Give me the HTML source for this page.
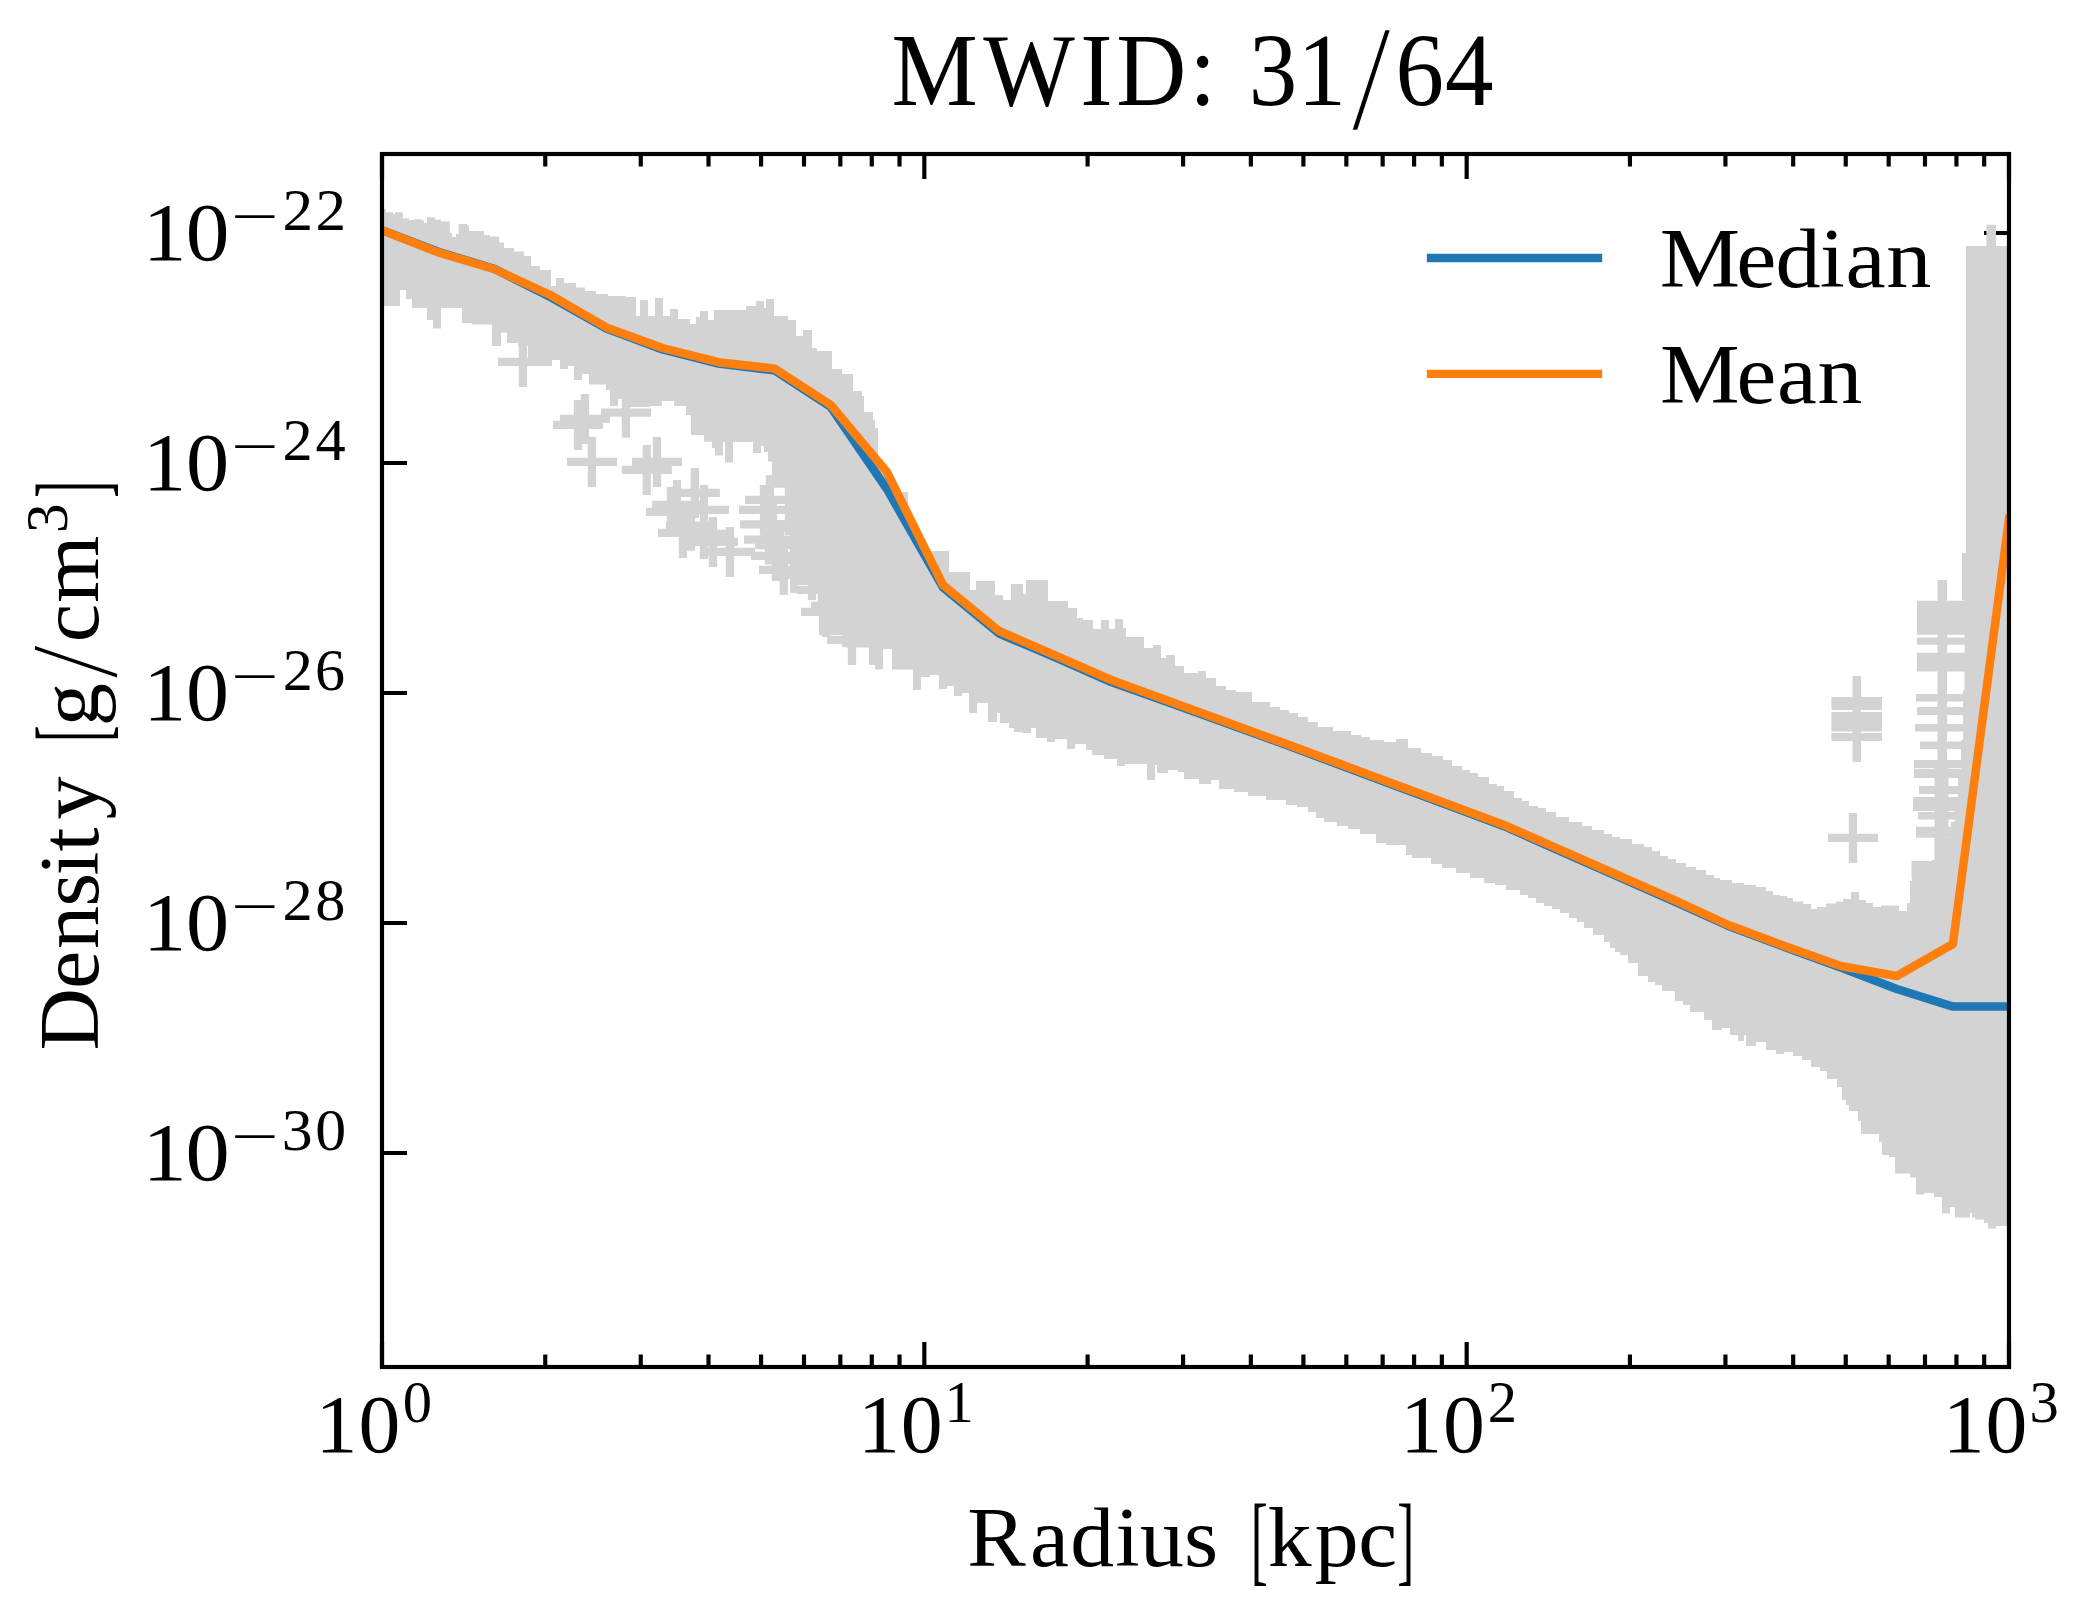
<!DOCTYPE html>
<html lang="en">
<head>
<meta charset="utf-8">
<title>MWID: 31/64</title>
<style>
html,body{margin:0;padding:0;background:#fff;}
body{width:2097px;height:1616px;overflow:hidden;}
svg{display:block;}
text{font-family:'Liberation Serif', 'DejaVu Serif', serif;fill:#000;}
</style>
</head>
<body>
<svg width="2097" height="1616" viewBox="0 0 2097 1616">
<rect width="2097" height="1616" fill="#fff"/>
<defs><clipPath id="ax"><rect x="382.0" y="154.0" width="1627.0" height="1213.0"/></clipPath></defs>
<path d="M382.00,1367.0v-25M382.00,154.0v25M924.33,1367.0v-25M924.33,154.0v25M1466.67,1367.0v-25M1466.67,154.0v25M2009.00,1367.0v-25M2009.00,154.0v25M545.26,1367.0v-12.5M545.26,154.0v12.5M640.76,1367.0v-12.5M640.76,154.0v12.5M708.52,1367.0v-12.5M708.52,154.0v12.5M761.07,1367.0v-12.5M761.07,154.0v12.5M804.02,1367.0v-12.5M804.02,154.0v12.5M840.32,1367.0v-12.5M840.32,154.0v12.5M871.78,1367.0v-12.5M871.78,154.0v12.5M899.52,1367.0v-12.5M899.52,154.0v12.5M1087.59,1367.0v-12.5M1087.59,154.0v12.5M1183.09,1367.0v-12.5M1183.09,154.0v12.5M1250.85,1367.0v-12.5M1250.85,154.0v12.5M1303.41,1367.0v-12.5M1303.41,154.0v12.5M1346.35,1367.0v-12.5M1346.35,154.0v12.5M1382.66,1367.0v-12.5M1382.66,154.0v12.5M1414.11,1367.0v-12.5M1414.11,154.0v12.5M1441.85,1367.0v-12.5M1441.85,154.0v12.5M1629.93,1367.0v-12.5M1629.93,154.0v12.5M1725.43,1367.0v-12.5M1725.43,154.0v12.5M1793.18,1367.0v-12.5M1793.18,154.0v12.5M1845.74,1367.0v-12.5M1845.74,154.0v12.5M1888.68,1367.0v-12.5M1888.68,154.0v12.5M1924.99,1367.0v-12.5M1924.99,154.0v12.5M1956.44,1367.0v-12.5M1956.44,154.0v12.5M1984.18,1367.0v-12.5M1984.18,154.0v12.5M382.0,233.0h25M2009.0,233.0h-25M382.0,463.0h25M2009.0,463.0h-25M382.0,693.0h25M2009.0,693.0h-25M382.0,923.0h25M2009.0,923.0h-25M382.0,1153.0h25M2009.0,1153.0h-25" stroke="#000" stroke-width="4.17" fill="none"/>
<g clip-path="url(#ax)">
<path d="M382.0,209.0 L386.0,209.0 L386.0,212.2 L392.9,212.2 L392.9,214.0 L395.0,214.0 L395.0,212.2 L402.9,212.2 L402.9,218.2 L408.9,218.2 L408.9,220.0 L414.1,220.0 L414.1,219.3 L421.7,219.3 L421.7,220.3 L423.9,220.3 L423.9,223.0 L427.0,223.0 L427.0,217.2 L434.9,217.2 L434.9,219.8 L441.0,219.8 L441.0,221.2 L449.9,221.2 L449.9,233.0 L452.0,233.0 L452.0,237.0 L456.0,237.0 L456.0,234.0 L458.7,234.0 L458.7,224.0 L467.3,224.0 L467.3,225.5 L469.0,225.5 L469.0,231.0 L484.0,231.0 L484.0,235.0 L490.0,235.0 L490.0,236.5 L499.0,236.5 L499.0,242.5 L504.0,242.5 L504.0,248.0 L514.0,248.0 L514.0,251.5 L524.0,251.5 L524.0,256.0 L531.0,256.0 L531.0,266.0 L540.0,266.0 L540.0,270.0 L551.0,270.0 L551.0,286.0 L556.0,286.0 L556.0,278.0 L564.0,278.0 L564.0,283.0 L576.0,283.0 L576.0,287.5 L585.0,287.5 L585.0,291.0 L596.0,291.0 L596.0,294.0 L608.0,294.0 L608.0,296.0 L626.0,296.0 L626.0,297.0 L636.0,297.0 L636.0,316.0 L640.0,316.0 L640.0,300.0 L648.0,300.0 L648.0,316.0 L655.0,316.0 L655.0,298.0 L663.0,298.0 L663.0,316.0 L670.0,316.0 L670.0,309.0 L678.0,309.0 L678.0,319.0 L690.0,319.0 L690.0,324.0 L696.0,324.0 L696.0,317.0 L700.0,317.0 L700.0,311.0 L708.0,311.0 L708.0,320.0 L714.0,320.0 L714.0,310.0 L746.0,310.0 L746.0,306.0 L756.0,306.0 L756.0,301.0 L764.0,301.0 L764.0,308.0 L766.0,308.0 L766.0,299.0 L774.0,299.0 L774.0,316.0 L788.0,316.0 L788.0,320.0 L796.0,320.0 L796.0,336.0 L803.0,336.0 L803.0,330.0 L812.0,330.0 L812.0,348.0 L817.0,348.0 L817.0,351.0 L832.0,351.0 L832.0,369.0 L842.0,369.0 L842.0,374.0 L853.0,374.0 L853.0,391.0 L862.0,391.0 L862.0,396.0 L864.0,396.0 L864.0,412.0 L873.0,412.0 L873.0,420.0 L875.0,420.0 L875.0,428.0 L878.0,428.0 L878.0,463.7 L882.0,463.7 L882.0,468.5 L886.0,468.5 L886.0,474.2 L890.0,474.2 L890.0,482.2 L894.0,482.2 L894.0,490.3 L898.0,490.3 L898.0,492.0 L908.0,492.0 L908.0,519.1 L912.6,519.1 L912.6,528.3 L917.2,528.3 L917.2,537.6 L921.8,537.6 L921.8,546.9 L926.4,546.9 L926.4,556.1 L931.0,556.1 L931.0,551.0 L949.0,551.0 L949.0,572.0 L970.0,572.0 L970.0,590.0 L976.0,590.0 L976.0,581.0 L995.0,581.0 L995.0,595.0 L1003.0,595.0 L1003.0,600.0 L1011.0,600.0 L1011.0,584.0 L1023.0,584.0 L1023.0,594.0 L1026.0,594.0 L1026.0,580.0 L1048.0,580.0 L1048.0,601.0 L1068.0,601.0 L1068.0,608.0 L1077.0,608.0 L1077.0,618.0 L1083.0,618.0 L1083.0,620.0 L1093.0,620.0 L1093.0,629.0 L1101.0,629.0 L1101.0,620.0 L1109.0,620.0 L1109.0,629.0 L1115.0,629.0 L1115.0,619.0 L1123.0,619.0 L1123.0,628.0 L1126.0,628.0 L1126.0,637.0 L1144.0,637.0 L1144.0,648.0 L1153.0,648.0 L1153.0,645.0 L1161.0,645.0 L1161.0,658.0 L1166.0,658.0 L1166.0,655.0 L1175.0,655.0 L1175.0,666.0 L1184.0,666.0 L1184.0,673.0 L1198.0,673.0 L1198.0,671.0 L1206.0,671.0 L1206.0,678.0 L1216.0,678.0 L1216.0,686.0 L1226.0,686.0 L1226.0,690.0 L1236.0,690.0 L1236.0,692.0 L1252.0,692.0 L1252.0,702.0 L1270.0,702.0 L1270.0,707.0 L1280.0,707.0 L1280.0,710.0 L1289.0,710.0 L1289.0,713.0 L1298.0,713.0 L1298.0,717.0 L1308.0,717.0 L1308.0,722.0 L1318.0,722.0 L1318.0,727.0 L1333.0,727.0 L1333.0,731.0 L1351.0,731.0 L1351.0,735.0 L1361.0,735.0 L1361.0,737.0 L1370.0,737.0 L1370.0,740.0 L1384.0,740.0 L1384.0,742.0 L1396.0,742.0 L1396.0,739.0 L1408.0,739.0 L1408.0,748.0 L1421.0,748.0 L1421.0,753.0 L1432.0,753.0 L1432.0,756.0 L1443.0,756.0 L1443.0,760.0 L1452.0,760.0 L1452.0,766.0 L1462.0,766.0 L1462.0,770.0 L1470.0,770.0 L1470.0,773.0 L1478.0,773.0 L1478.0,777.0 L1489.0,777.0 L1489.0,784.0 L1497.0,784.0 L1497.0,786.0 L1504.0,786.0 L1504.0,791.0 L1514.0,791.0 L1514.0,798.0 L1522.0,798.0 L1522.0,801.0 L1529.0,801.0 L1529.0,806.0 L1538.0,806.0 L1538.0,808.0 L1546.0,808.0 L1546.0,812.0 L1556.0,812.0 L1556.0,817.0 L1569.0,817.0 L1569.0,822.0 L1582.0,822.0 L1582.0,826.0 L1592.0,826.0 L1592.0,830.0 L1604.0,830.0 L1604.0,834.0 L1612.0,834.0 L1612.0,837.0 L1620.0,837.0 L1620.0,839.0 L1632.0,839.0 L1632.0,844.0 L1644.0,844.0 L1644.0,847.0 L1652.0,847.0 L1652.0,851.0 L1660.0,851.0 L1660.0,856.0 L1668.0,856.0 L1668.0,859.0 L1676.0,859.0 L1676.0,863.0 L1686.0,863.0 L1686.0,867.0 L1696.0,867.0 L1696.0,870.0 L1706.0,870.0 L1706.0,875.0 L1714.0,875.0 L1714.0,878.0 L1720.0,878.0 L1720.0,880.0 L1732.0,880.0 L1732.0,883.0 L1744.0,883.0 L1744.0,885.0 L1756.0,885.0 L1756.0,887.0 L1766.0,887.0 L1766.0,891.0 L1773.0,891.0 L1773.0,895.0 L1780.0,895.0 L1780.0,896.0 L1787.0,896.0 L1787.0,898.0 L1793.0,898.0 L1793.0,901.5 L1803.0,901.5 L1803.0,904.0 L1811.0,904.0 L1811.0,909.0 L1817.0,909.0 L1817.0,907.0 L1826.0,907.0 L1826.0,903.5 L1836.0,903.5 L1836.0,901.5 L1843.0,901.5 L1843.0,899.0 L1851.0,899.0 L1851.0,892.0 L1859.0,892.0 L1859.0,900.0 L1866.0,900.0 L1866.0,903.0 L1873.0,903.0 L1873.0,907.0 L1881.0,907.0 L1881.0,905.5 L1899.0,905.5 L1899.0,911.0 L1907.0,911.0 L1907.0,903.0 L1910.0,903.0 L1910.0,881.0 L1912.0,881.0 L1912.0,861.0 L1932.0,861.0 L1932.0,860.0 L1934.5,860.0 L1934.5,760.0 L1948.5,760.0 L1948.5,838.0 L1965.0,838.0 L1965.0,553.0 L1966.0,553.0 L1966.0,246.0 L1986.4,246.0 L1986.4,224.7 L1996.0,224.7 L1996.0,246.0 L2009.0,246.0 L2009.0,1226.0 L1996.0,1226.0 L1996.0,1228.5 L1988.0,1228.5 L1988.0,1223.0 L1984.0,1223.0 L1984.0,1219.6 L1975.0,1219.6 L1975.0,1217.5 L1972.0,1217.5 L1972.0,1213.0 L1970.0,1213.0 L1970.0,1217.5 L1955.0,1217.5 L1955.0,1207.0 L1950.0,1207.0 L1950.0,1213.5 L1942.0,1213.5 L1942.0,1197.0 L1934.0,1197.0 L1934.0,1193.0 L1924.0,1193.0 L1924.0,1194.6 L1916.0,1194.6 L1916.0,1177.5 L1910.0,1177.5 L1910.0,1173.5 L1895.0,1173.5 L1895.0,1157.0 L1889.0,1157.0 L1889.0,1155.0 L1882.0,1155.0 L1882.0,1142.0 L1879.0,1142.0 L1879.0,1134.0 L1861.0,1134.0 L1861.0,1121.0 L1858.0,1121.0 L1858.0,1111.0 L1849.0,1111.0 L1849.0,1105.0 L1846.0,1105.0 L1846.0,1100.0 L1842.0,1100.0 L1842.0,1087.0 L1837.0,1087.0 L1837.0,1079.0 L1827.0,1079.0 L1827.0,1071.0 L1820.0,1071.0 L1820.0,1067.0 L1811.0,1067.0 L1811.0,1060.0 L1802.0,1060.0 L1802.0,1056.0 L1793.0,1056.0 L1793.0,1052.0 L1784.0,1052.0 L1784.0,1054.0 L1776.0,1054.0 L1776.0,1050.0 L1766.0,1050.0 L1766.0,1042.0 L1756.0,1042.0 L1756.0,1046.0 L1746.0,1046.0 L1746.0,1035.0 L1744.0,1035.0 L1744.0,1041.0 L1738.0,1041.0 L1738.0,1035.0 L1730.0,1035.0 L1730.0,1028.0 L1722.0,1028.0 L1722.0,1030.0 L1712.0,1030.0 L1712.0,1020.0 L1704.0,1020.0 L1704.0,1012.0 L1690.0,1012.0 L1690.0,1005.0 L1683.0,1005.0 L1683.0,1001.0 L1675.0,1001.0 L1675.0,991.0 L1662.0,991.0 L1662.0,985.0 L1655.0,985.0 L1655.0,982.0 L1648.0,982.0 L1648.0,976.0 L1638.0,976.0 L1638.0,963.0 L1628.0,963.0 L1628.0,955.0 L1620.0,955.0 L1620.0,952.0 L1615.0,952.0 L1615.0,948.0 L1610.0,948.0 L1610.0,942.0 L1604.0,942.0 L1604.0,935.0 L1593.0,935.0 L1593.0,928.0 L1584.0,928.0 L1584.0,922.0 L1577.0,922.0 L1577.0,918.0 L1569.0,918.0 L1569.0,913.0 L1560.0,913.0 L1560.0,909.0 L1552.0,909.0 L1552.0,906.0 L1544.0,906.0 L1544.0,903.0 L1536.0,903.0 L1536.0,898.0 L1528.0,898.0 L1528.0,895.0 L1520.0,895.0 L1520.0,890.0 L1506.0,890.0 L1506.0,885.0 L1495.0,885.0 L1495.0,883.0 L1484.0,883.0 L1484.0,878.0 L1470.0,878.0 L1470.0,873.0 L1456.0,873.0 L1456.0,868.0 L1442.0,868.0 L1442.0,864.0 L1431.0,864.0 L1431.0,858.0 L1412.0,858.0 L1412.0,855.0 L1406.0,855.0 L1406.0,845.0 L1386.0,845.0 L1386.0,843.0 L1376.0,843.0 L1376.0,834.0 L1360.0,834.0 L1360.0,829.0 L1348.0,829.0 L1348.0,826.0 L1337.0,826.0 L1337.0,822.0 L1324.0,822.0 L1324.0,818.0 L1316.0,818.0 L1316.0,812.0 L1308.0,812.0 L1308.0,807.0 L1297.0,807.0 L1297.0,805.0 L1286.0,805.0 L1286.0,800.0 L1266.0,800.0 L1266.0,796.0 L1248.0,796.0 L1248.0,792.0 L1234.0,792.0 L1234.0,789.0 L1219.0,789.0 L1219.0,780.0 L1211.0,780.0 L1211.0,784.0 L1199.0,784.0 L1199.0,779.0 L1184.0,779.0 L1184.0,772.0 L1178.0,772.0 L1178.0,770.0 L1168.0,770.0 L1168.0,773.0 L1157.0,773.0 L1157.0,765.0 L1155.0,765.0 L1155.0,780.0 L1147.0,780.0 L1147.0,764.0 L1125.0,764.0 L1125.0,766.0 L1117.0,766.0 L1117.0,759.0 L1104.0,759.0 L1104.0,755.0 L1092.0,755.0 L1092.0,750.0 L1086.0,750.0 L1086.0,744.0 L1075.0,744.0 L1075.0,749.0 L1067.0,749.0 L1067.0,739.0 L1055.0,739.0 L1055.0,742.0 L1047.0,742.0 L1047.0,738.0 L1036.0,738.0 L1036.0,728.0 L1031.0,728.0 L1031.0,733.0 L1022.0,733.0 L1022.0,732.0 L1014.0,732.0 L1014.0,728.0 L1009.0,728.0 L1009.0,723.0 L1000.0,723.0 L1000.0,713.0 L997.0,713.0 L997.0,722.0 L988.0,722.0 L988.0,703.0 L977.0,703.0 L977.0,713.0 L969.0,713.0 L969.0,693.0 L962.0,693.0 L962.0,696.0 L954.0,696.0 L954.0,686.0 L947.0,686.0 L947.0,689.0 L939.0,689.0 L939.0,675.0 L930.0,675.0 L930.0,677.0 L921.0,677.0 L921.0,690.0 L913.0,690.0 L913.0,669.6 L892.0,669.6 L892.0,649.0 L883.0,649.0 L883.0,669.6 L875.0,669.6 L875.0,665.0 L869.0,665.0 L869.0,647.6 L846.0,647.6 L846.0,627.0 L842.0,627.0 L842.0,635.0 L819.0,635.0 L819.0,593.0 L810.0,593.0 L810.0,585.0 L798.0,585.0 L798.0,593.0 L790.0,593.0 L790.0,503.5 L787.0,503.5 L787.0,487.8 L772.0,487.8 L772.0,461.5 L768.0,461.5 L768.0,452.0 L764.0,452.0 L764.0,446.0 L761.0,446.0 L761.0,453.0 L753.0,453.0 L753.0,442.0 L733.0,442.0 L733.0,462.5 L725.0,462.5 L725.0,442.0 L723.0,442.0 L723.0,455.5 L715.0,455.5 L715.0,448.0 L712.0,448.0 L712.0,441.7 L704.0,441.7 L704.0,435.0 L691.0,435.0 L691.0,415.0 L686.0,415.0 L686.0,406.0 L674.0,406.0 L674.0,401.0 L662.0,401.0 L662.0,406.0 L650.0,406.0 L650.0,407.0 L630.0,407.0 L630.0,399.0 L618.0,399.0 L618.0,406.0 L610.0,406.0 L610.0,390.0 L606.0,390.0 L606.0,384.6 L589.0,384.6 L589.0,374.0 L582.0,374.0 L582.0,380.0 L574.0,380.0 L574.0,366.0 L568.0,366.0 L568.0,369.0 L560.0,369.0 L560.0,360.0 L552.0,360.0 L552.0,366.0 L540.0,366.0 L540.0,358.0 L528.0,358.0 L528.0,346.0 L518.0,346.0 L518.0,343.0 L507.0,343.0 L507.0,332.6 L501.0,332.6 L501.0,346.0 L492.0,346.0 L492.0,324.6 L472.0,324.6 L472.0,323.0 L462.0,323.0 L462.0,308.0 L441.0,308.0 L441.0,328.6 L433.0,328.6 L433.0,320.0 L427.0,320.0 L427.0,308.0 L412.0,308.0 L412.0,299.0 L406.0,299.0 L406.0,290.0 L400.0,290.0 L400.0,306.0 L382.0,306.0ZM498.0,357.8h50.0v8.3h-50.0ZM518.8,337.0h8.3v50.0h-8.3ZM553.0,420.8h50.0v8.3h-50.0ZM573.8,400.0h8.3v50.0h-8.3ZM560.0,414.7h50.0v8.3h-50.0ZM580.8,393.9h8.3v50.0h-8.3ZM567.0,457.8h50.0v8.3h-50.0ZM587.8,437.0h8.3v50.0h-8.3ZM601.0,408.5h50.0v8.3h-50.0ZM621.8,387.7h8.3v50.0h-8.3ZM621.8,465.8h50.0v8.3h-50.0ZM642.6,445.0h8.3v50.0h-8.3ZM632.0,457.8h50.0v8.3h-50.0ZM652.8,437.0h8.3v50.0h-8.3ZM669.9,488.8h50.0v8.3h-50.0ZM690.7,468.0h8.3v50.0h-8.3ZM679.0,505.8h50.0v8.3h-50.0ZM699.8,485.0h8.3v50.0h-8.3ZM646.0,507.8h50.0v8.3h-50.0ZM666.8,487.0h8.3v50.0h-8.3ZM666.0,521.6h50.0v8.3h-50.0ZM686.8,500.8h8.3v50.0h-8.3ZM688.0,537.8h50.0v8.3h-50.0ZM708.8,517.0h8.3v50.0h-8.3ZM679.0,529.8h50.0v8.3h-50.0ZM699.8,509.0h8.3v50.0h-8.3ZM705.0,547.8h50.0v8.3h-50.0ZM725.8,527.0h8.3v50.0h-8.3ZM652.0,500.8h50.0v8.3h-50.0ZM672.8,480.0h8.3v50.0h-8.3ZM658.0,528.8h50.0v8.3h-50.0ZM678.8,508.0h8.3v50.0h-8.3ZM740.0,520.3h50.0v8.3h-50.0ZM760.8,499.5h8.3v50.0h-8.3ZM748.0,520.3h50.0v8.3h-50.0ZM768.8,499.5h8.3v50.0h-8.3ZM744.0,535.4h50.0v8.3h-50.0ZM764.8,514.6h8.3v50.0h-8.3ZM751.0,551.8h50.0v8.3h-50.0ZM771.8,531.0h8.3v50.0h-8.3ZM759.0,565.8h50.0v8.3h-50.0ZM779.8,545.0h8.3v50.0h-8.3ZM745.0,495.8h50.0v8.3h-50.0ZM765.8,475.0h8.3v50.0h-8.3ZM739.0,505.8h50.0v8.3h-50.0ZM759.8,485.0h8.3v50.0h-8.3ZM755.0,540.8h50.0v8.3h-50.0ZM775.8,520.0h8.3v50.0h-8.3ZM764.0,505.8h50.0v8.3h-50.0ZM784.8,485.0h8.3v50.0h-8.3ZM770.0,523.8h50.0v8.3h-50.0ZM790.8,503.0h8.3v50.0h-8.3ZM775.0,540.8h50.0v8.3h-50.0ZM795.8,520.0h8.3v50.0h-8.3ZM781.0,555.8h50.0v8.3h-50.0ZM801.8,535.0h8.3v50.0h-8.3ZM787.0,570.8h50.0v8.3h-50.0ZM807.8,550.0h8.3v50.0h-8.3ZM797.0,585.8h50.0v8.3h-50.0ZM817.8,565.0h8.3v50.0h-8.3ZM801.0,607.8h50.0v8.3h-50.0ZM821.8,587.0h8.3v50.0h-8.3ZM811.0,601.8h50.0v8.3h-50.0ZM831.8,581.0h8.3v50.0h-8.3ZM821.0,617.8h50.0v8.3h-50.0ZM841.8,597.0h8.3v50.0h-8.3ZM827.0,635.8h50.0v8.3h-50.0ZM847.8,615.0h8.3v50.0h-8.3ZM770.0,555.8h50.0v8.3h-50.0ZM790.8,535.0h8.3v50.0h-8.3ZM1828.0,833.8h50.0v8.3h-50.0ZM1848.8,813.0h8.3v50.0h-8.3ZM1852.5,676.0H1861.0V762.0H1852.5ZM1831.4,697.0H1882.0V710.0H1831.4ZM1831.4,712.0H1882.0V731.6H1831.4ZM1831.4,733.0H1882.0V741.0H1831.4ZM1917.0,600.7H1965.6V634.8H1917.0ZM1917.0,637.4H1965.6V644.8H1917.0ZM1917.0,652.8H1965.6V671.5H1917.0ZM1916.0,694.0H1965.0V701.5H1916.0ZM1917.0,707.0H1965.0V715.0H1917.0ZM1915.0,724.0H1965.0V731.6H1915.0ZM1920.0,741.6H1965.0V749.0H1920.0ZM1914.0,760.0H1965.0V768.0H1914.0ZM1914.0,768.7H1963.0V778.0H1914.0ZM1919.0,786.0H1963.0V794.0H1919.0ZM1913.0,797.0H1963.0V811.0H1913.0ZM1918.0,812.0H1963.0V819.4H1918.0ZM1916.0,826.8H1963.0V837.8H1916.0ZM1911.5,861.0H1936.0V878.0H1911.5ZM1910.0,881.0H1936.0V889.0H1910.0ZM1937.5,580.0H1947.0V762.0H1937.5ZM1964.5,553.0H1966.0V838.0H1964.5ZM1962.0,553.0H1966.0V600.0H1962.0ZM1963.0,690.0H1966.0V740.0H1963.0ZM1961.0,740.0H1966.0V770.0H1961.0ZM1958.0,770.0H1966.0V800.0H1958.0ZM1954.5,800.0H1966.0V822.0H1954.5ZM1951.0,822.0H1966.0V840.0H1951.0Z" fill="#d3d3d3" fill-rule="nonzero"/>
<path d="M382.0,230.1 L438.1,251.7 L494.2,268.8 L550.3,297.0 L606.4,328.6 L662.5,349.5 L718.6,363.6 L774.7,370.4 L830.8,407.0 L886.9,489.0 L943.0,587.5 L999.1,633.5 L1055.2,657.4 L1111.3,682.0 L1167.4,702.0 L1223.6,722.3 L1279.7,742.6 L1335.8,763.5 L1391.9,784.4 L1448.0,805.3 L1504.1,826.2 L1560.2,851.0 L1616.3,875.8 L1672.4,900.5 L1728.5,926.0 L1784.6,947.0 L1840.7,967.5 L1896.8,989.0 L1952.9,1006.6 L2009.0,1006.6" fill="none" stroke="#1f77b4" stroke-width="8.5" stroke-linejoin="round" stroke-linecap="square"/>
<path d="M382.0,230.3 L438.1,252.4 L494.2,269.0 L550.3,295.0 L606.4,327.4 L662.5,348.0 L718.6,362.2 L774.7,368.6 L830.8,405.0 L886.9,472.0 L943.0,585.0 L999.1,631.0 L1055.2,655.4 L1111.3,680.0 L1167.4,700.5 L1223.6,721.0 L1279.7,741.5 L1335.8,762.3 L1391.9,783.2 L1448.0,804.1 L1504.1,825.0 L1560.2,849.7 L1616.3,874.5 L1672.4,899.2 L1728.5,925.0 L1784.6,946.0 L1840.7,966.0 L1896.8,976.0 L1952.9,944.0 L2009.0,518.5" fill="none" stroke="#ff7f0e" stroke-width="8.5" stroke-linejoin="round" stroke-linecap="square"/>
</g>
<rect x="382.0" y="154.0" width="1627.0" height="1213.0" fill="none" stroke="#000" stroke-width="4.17"/>
<path d="M1431,258H1598" stroke="#1f77b4" stroke-width="8.33" stroke-linecap="square"/>
<path d="M1431,373.9H1598" stroke="#ff7f0e" stroke-width="8.33" stroke-linecap="square"/>
<text transform="scale(0.9417,1)"><tspan font-size="103.0" x="946.7 1044.1 1147.2 1185.3 1262.8 1282.8 1326.1 1377.8" y="105.0">MWID: 31</tspan><tspan font-size="153.1" x="1434.7" y="129.7" textLength="42.88" lengthAdjust="spacingAndGlyphs" stroke="#fff" stroke-width="2.4">/</tspan><tspan font-size="103.0" x="1482.0 1534.4" y="105.0">64</tspan></text>
<text transform="scale(1.0324,1)"><tspan font-size="85.0" x="936.8 997.6 1036.6 1080.3 1104.3 1146.9 1166.9" y="1565.6">Radius </tspan><tspan font-size="100.0" x="1211.5" y="1573.0" textLength="16.49" lengthAdjust="spacingAndGlyphs">[</tspan><tspan font-size="85.0" x="1228.0 1273.5 1315.7" y="1565.6">kpc</tspan><tspan font-size="100.0" x="1353.5" y="1573.0" textLength="16.49" lengthAdjust="spacingAndGlyphs">]</tspan></text>
<text transform="scale(1.0626,1)"><tspan font-size="85.0" x="1561.9 1634.0 1671.0 1712.5 1736.7 1775.1" y="286.8">Median</tspan></text>
<text transform="scale(1.0537,1)"><tspan font-size="85.0" x="1575.4 1648.0 1686.5 1724.8" y="403.5">Mean</tspan></text>
<text transform="translate(97.5,1047.7) rotate(-90) scale(1.0160,1)"><tspan font-size="85.0" x="-2.8 57.7 97.2 139.0 169.4 193.1 224.6 244.6" y="0.0">Density </tspan><tspan font-size="100.0" x="300.8" y="7.4" textLength="16.31" lengthAdjust="spacingAndGlyphs">[</tspan><tspan font-size="85.0" x="316.4" y="0.0">g</tspan><tspan font-size="125.9" x="362.8" y="19.4" textLength="33.93" lengthAdjust="spacingAndGlyphs" stroke="#fff" stroke-width="2.0">/</tspan><tspan font-size="85.0" x="399.0 437.9" y="0.0">cm</tspan><tspan font-size="58.3" x="506.6" y="-30.9">3</tspan><tspan font-size="100.0" x="541.2" y="7.4" textLength="16.90" lengthAdjust="spacingAndGlyphs">]</tspan></text>
<text transform="scale(1.0051,1)"><tspan font-size="83.3" x="314.0 356.7" y="1451.8">10</tspan><tspan font-size="58.3" x="400.8" y="1422.0">0</tspan></text>
<text transform="scale(1.0051,1)"><tspan font-size="83.3" x="853.6 896.3" y="1451.8">10</tspan><tspan font-size="58.3" x="939.6" y="1422.0">1</tspan></text>
<text transform="scale(1.0051,1)"><tspan font-size="83.3" x="1393.2 1435.8" y="1451.8">10</tspan><tspan font-size="58.3" x="1480.3" y="1422.0">2</tspan></text>
<text transform="scale(1.0051,1)"><tspan font-size="83.3" x="1932.8 1975.4" y="1451.8">10</tspan><tspan font-size="58.3" x="2019.3" y="1422.0">3</tspan></text>
<text transform="scale(1.0494,1)"><tspan font-size="83.3" x="136.0 176.9" y="259.8">10</tspan><tspan font-size="58.3" x="220.1" y="236.0" textLength="45.42" lengthAdjust="spacingAndGlyphs">−</tspan><tspan font-size="58.3" x="269.1 300.6" y="230.0">22</tspan></text>
<text transform="scale(1.0352,1)"><tspan font-size="83.3" x="138.2 179.6" y="489.8">10</tspan><tspan font-size="58.3" x="223.1" y="466.0" textLength="46.04" lengthAdjust="spacingAndGlyphs">−</tspan><tspan font-size="58.3" x="273.0 304.7" y="460.0">24</tspan></text>
<text transform="scale(1.0318,1)"><tspan font-size="83.3" x="138.8 180.3" y="719.8">10</tspan><tspan font-size="58.3" x="223.9" y="696.0" textLength="46.20" lengthAdjust="spacingAndGlyphs">−</tspan><tspan font-size="58.3" x="274.0 305.3" y="690.0">26</tspan></text>
<text transform="scale(1.0355,1)"><tspan font-size="83.3" x="138.2 179.6" y="949.8">10</tspan><tspan font-size="58.3" x="223.0" y="926.0" textLength="46.03" lengthAdjust="spacingAndGlyphs">−</tspan><tspan font-size="58.3" x="272.9 304.5" y="920.0">28</tspan></text>
<text transform="scale(1.0618,1)"><tspan font-size="83.3" x="134.2 174.6" y="1179.8">10</tspan><tspan font-size="58.3" x="217.5" y="1156.0" textLength="44.89" lengthAdjust="spacingAndGlyphs">−</tspan><tspan font-size="58.3" x="265.4 297.0" y="1150.0">30</tspan></text>
</svg>
</body>
</html>
